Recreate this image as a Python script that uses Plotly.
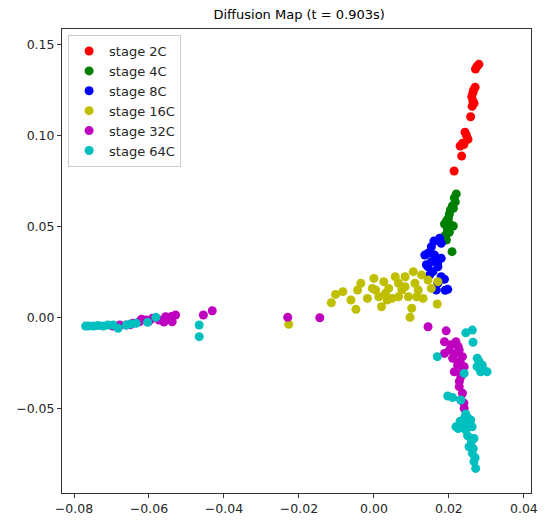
import plotly.graph_objects as go

# ---- data ----
stages = ["stage 2C", "stage 4C", "stage 8C", "stage 16C", "stage 32C", "stage 64C"]
colors = ["#ff0000", "#008000", "#0000ff", "#bfbf00", "#bf00bf", "#00bfbf"]

x_2c = [0.0280, 0.0271, 0.0275, 0.0270, 0.0264, 0.0266, 0.0261, 0.0264, 0.0267, 0.0262,
        0.0258, 0.0243, 0.0251, 0.0247, 0.0236, 0.0240, 0.0230, 0.0234, 0.0214]
y_2c = [0.1391, 0.1365, 0.1380, 0.1265, 0.1235, 0.1250, 0.1213, 0.1190, 0.1177, 0.1160,
        0.1103, 0.1018, 0.0979, 0.1000, 0.0957, 0.0950, 0.0942, 0.0887, 0.0805]

x_4c = [0.02197, 0.02144, 0.02171, 0.02092, 0.02039, 0.02013, 0.01987, 0.01934, 0.01882,
        0.02039, 0.02118, 0.01961, 0.02013, 0.01908, 0.01829, 0.01934, 0.02084, 0.0212,
        0.0200, 0.0195]
y_4c = [0.0679, 0.0657, 0.0635, 0.0613, 0.0591, 0.0569, 0.0547, 0.0530, 0.0514,
        0.0508, 0.0503, 0.0486, 0.0470, 0.0453, 0.0437, 0.0426, 0.0362, 0.0600,
        0.0520, 0.0460]

x_8c = [0.01751, 0.01795, 0.01533, 0.01444, 0.01357, 0.01619, 0.01795, 0.01533, 0.01444,
        0.01706, 0.01575, 0.01795, 0.01882, 0.01706, 0.01664, 0.01969, 0.01488, 0.0160,
        0.0150, 0.0170, 0.0140, 0.0190]
y_8c = [0.0435, 0.0408, 0.0389, 0.0353, 0.0343, 0.0343, 0.0325, 0.0307, 0.0279,
        0.0279, 0.0252, 0.0224, 0.0210, 0.0188, 0.0151, 0.0155, 0.0234, 0.0420,
        0.0360, 0.0300, 0.0290, 0.0150]

x_16c = [-0.01136, -0.01024, -0.00829, -0.00612, -0.00480, -0.00349, -0.00436, -0.00173,
         0.0, 0.00045, 0.00202, 0.00262, 0.00307, 0.00483, 0.00570, 0.00656, 0.00745,
         0.00832, 0.00919, 0.00963, 0.01008, 0.01050, 0.01094, 0.01181, 0.01270, 0.01312,
         0.01139, 0.01444, 0.01533, 0.01690, 0.01706, -0.00042, 0.00131, 0.00394, 0.00656,
         0.00832, 0.00352, -0.02273]
y_16c = [0.0081, 0.0127, 0.0142, 0.0096, 0.0045, 0.0188, 0.0151, 0.0105,
         0.0215, 0.0151, 0.0059, 0.0197, 0.0133, 0.0105, 0.0224, 0.0188, 0.0151,
         0.0224, 0.0114, 0.0001, 0.0051, 0.0252, 0.0188, 0.0151, 0.0234, 0.0105,
         0.0114, 0.0206, 0.0160, 0.0074, 0.0197, 0.0160, 0.0114, 0.0160, 0.0114,
         0.0169, 0.0096, -0.0037]

x_32c = [-0.05291, -0.05381, -0.05554, -0.05730, -0.05906, -0.06079, -0.06255, -0.06430,
         -0.06604, -0.06780, -0.06963, -0.0540, -0.0560, -0.0600, -0.0620, -0.0650, -0.0545,
         -0.04549, -0.04312, -0.02299, -0.01444,
         0.01444, 0.01927, 0.01882, 0.02189, 0.02013, 0.02276, 0.02100, 0.02362, 0.02231,
         0.02144, 0.02320, 0.02276, 0.02362, 0.02407, 0.02320, 0.01882, 0.02407, 0.0205,
         0.0225, 0.0230, 0.0215, 0.0235, 0.0240, 0.0228]
y_32c = [0.0014, -0.0023, 0.0004, -0.0014, -0.0004, -0.0014, -0.0023, -0.0032,
         -0.0041, -0.0041, -0.0047, 0.0005, -0.0025, -0.0020, -0.0010, -0.0040, -0.0010,
         0.0014, 0.0037, 0.0001, -0.0001,
         -0.0051, -0.0073, -0.0133, -0.0133, -0.0179, -0.0179, -0.0224, -0.0215, -0.0261,
         -0.0298, -0.0325, -0.0380, -0.0416, -0.0499, -0.0453, -0.0197, -0.0270, -0.0150,
         -0.0160, -0.0240, -0.0200, -0.0300, -0.0470, -0.0350]

x_64c = [-0.07690, -0.07612, -0.07480, -0.07357, -0.07218, -0.07094, -0.06955, -0.06824,
         -0.06604, -0.06491, -0.06341, -0.06037, -0.05816, -0.04661, -0.04661,
         0.02451, 0.02625, 0.02643, 0.01690, 0.02756, 0.02887, 0.03018, 0.02845, 0.02407,
         0.01969, 0.02320, 0.02407, 0.02583, 0.02189, 0.02451, 0.02669, 0.02538, 0.02625,
         0.02669, 0.02714, 0.0280, 0.0290, 0.0275, 0.0245, 0.0255, 0.0235, 0.0250, 0.0260,
         0.0265, 0.0270, 0.0210, 0.0240, 0.0225, 0.0250, 0.0262, 0.0230]
y_64c = [-0.0047, -0.0047, -0.0047, -0.0044, -0.0047, -0.0041, -0.0041, -0.0059,
         -0.0041, -0.0036, -0.0032, -0.0026, 0.0001, -0.0041, -0.0105,
         -0.0084, -0.0069, -0.0136, -0.0215, -0.0224, -0.0261, -0.0298, -0.0298, -0.0307,
         -0.0431, -0.0453, -0.0554, -0.0563, -0.0600, -0.0618, -0.0664, -0.0710, -0.0746,
         -0.0792, -0.0829, -0.0240, -0.0280, -0.0270, -0.0530, -0.0580, -0.0590, -0.0650,
         -0.0680, -0.0720, -0.0770, -0.0440, -0.0580, -0.0610, -0.0550, -0.0600, -0.0570]

xs = [x_2c, x_4c, x_8c, x_16c, x_32c, x_64c]
ys = [y_2c, y_4c, y_8c, y_16c, y_32c, y_64c]

x_ticks = [-0.08, -0.06, -0.04, -0.02, 0.00, 0.02, 0.04]
y_ticks = [-0.05, 0.00, 0.05, 0.10, 0.15]


def fmt(v):
    s = f"{abs(v):.2f}"
    return ("\u2212" + s) if v < -1e-12 else s


fig = go.Figure()
for name, col, xv, yv in zip(stages, colors, xs, ys):
    fig.add_trace(go.Scatter(x=xv, y=yv, mode="markers", name=name,
                             marker=dict(color=col, size=9, line=dict(width=0))))

axis_common = dict(showgrid=False, zeroline=False, showline=True, mirror=True,
                   linecolor="#333333", linewidth=1, ticks="outside", ticklen=4,
                   tickcolor="#333333", tickfont=dict(size=12.5, color="#262626"))

fig.update_layout(
    width=547, height=525,
    margin=dict(l=62, r=9, t=29, b=32),
    paper_bgcolor="white", plot_bgcolor="white",
    font=dict(family="DejaVu Sans", color="#262626"),
    title=dict(text="Diffusion Map (t = 0.903s)", x=0.547, xanchor="center",
               y=1 - 14 / 525, yanchor="middle", font=dict(size=13, color="#000000")),
    xaxis=dict(range=[-0.0832, 0.0419], tickvals=x_ticks,
               ticktext=[fmt(v) for v in x_ticks], **axis_common),
    yaxis=dict(range=[-0.0964, 0.1585], tickvals=y_ticks,
               ticktext=[fmt(v) for v in y_ticks], **axis_common),
    legend=dict(x=0.013, y=0.987, xanchor="left", yanchor="top",
                bordercolor="#cccccc", borderwidth=1, bgcolor="rgba(255,255,255,0.8)",
                font=dict(size=13, color="#262626"), itemsizing="trace",
                tracegroupgap=0),
    showlegend=True,
)

fig.write_html("out.html")
